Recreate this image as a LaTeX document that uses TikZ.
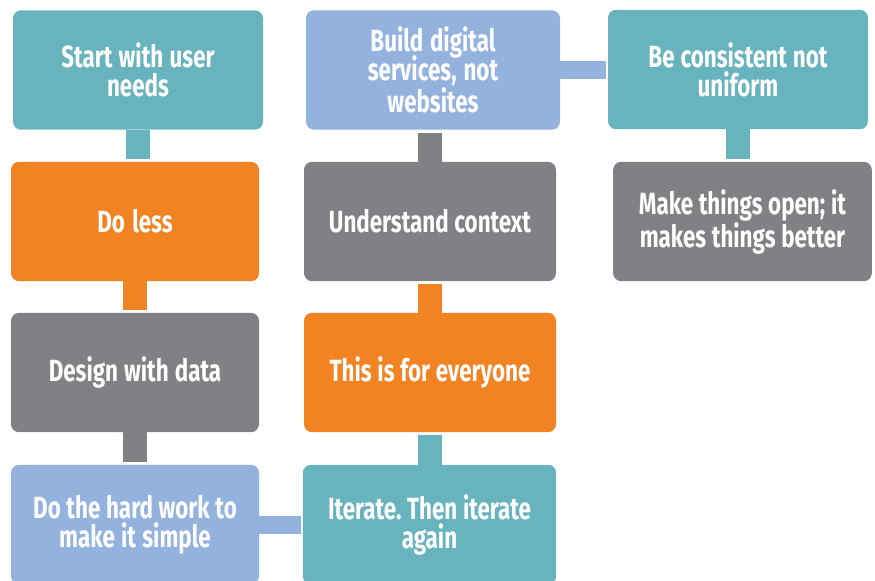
\documentclass[tikz,border=0pt]{standalone}
\usepackage{fontspec}
\newfontfamily\boxfont{Fira Sans}[FakeStretch=0.73]
\newcommand\boxtype{\boxfont\bfseries\fontsize{23}{21.75}\selectfont}
\newcommand\tightspace{\spaceskip=0.17em plus 0.05em\relax
    \xspaceskip=\spaceskip\lineskiplimit=-20pt\relax}
\definecolor{govteal}{HTML}{67B3BE}
\definecolor{govorange}{HTML}{F28322}
\definecolor{govgrey}{HTML}{808184}
\definecolor{govblue}{HTML}{93B3DE}
\tikzset{
    box/.style={rectangle, rounded corners=6pt, inner sep=2pt,
        minimum height=89.5pt, text width=180pt,
        align=center, text=white, font=\boxtype},
    link/.style={line width=18pt, shorten >=2.25pt},
    hlink/.style={line width=13.5pt, shorten >=1.5pt}
}
\begin{document}
\begin{tikzpicture}[x=0.75pt, y=-0.75pt]
            \useasboundingbox (0,0) rectangle (875,581);

            \foreach \n/\x/\y/\w/\c/\t in {start/138/70/187.5/govteal/{Start with user\\needs},
                less/135/221.5/186/govorange/{Do less},
                design/135/372.5/186/govgrey/{Design with data},
                hard/135/524.5/186/govblue/{Do the hard work to\\make it simple},
                build/433/70/190.5/govblue/{Build digital\\services, not\\websites},
                understand/430/221.5/189/govgrey/{Understand context},
                everyone/430/372.5/189/govorange/{This is for everyone},
                iterate/429.5/524.5/190/govteal/{Iterate. Then iterate\\again},
                consistent/738/69.5/195/govteal/{Be consistent not\\uniform},
                open/742.5/221.5/194/govgrey/{Make things open; it\\makes things better}}
                {
                    \node (\n) at (\x, \y)[box,fill=\c,minimum width=\w pt]{\tightspace\t};
                }

            % downward links
            \foreach \a/\b/\c in {start/less/govteal, less/design/govorange,
                design/hard/govgrey, consistent/open/govteal}
                {
                    \draw[link, \c] (\a.south) -- (\a.south |- \b.north);
                }
            % upward links
            \foreach \a/\b/\c in {iterate/everyone/govteal, everyone/understand/govorange,
                understand/build/govgrey}
                {
                    \draw[link, \c] (\a.north) -- (\a.north |- \b.south);
                }
            % sideways links
            \draw[hlink, govblue] (hard.east) -- (hard.east -| iterate.west);
            \draw[hlink, govblue] (build.east) -- (build.east -| consistent.west);

        \end{tikzpicture}
\end{document}
